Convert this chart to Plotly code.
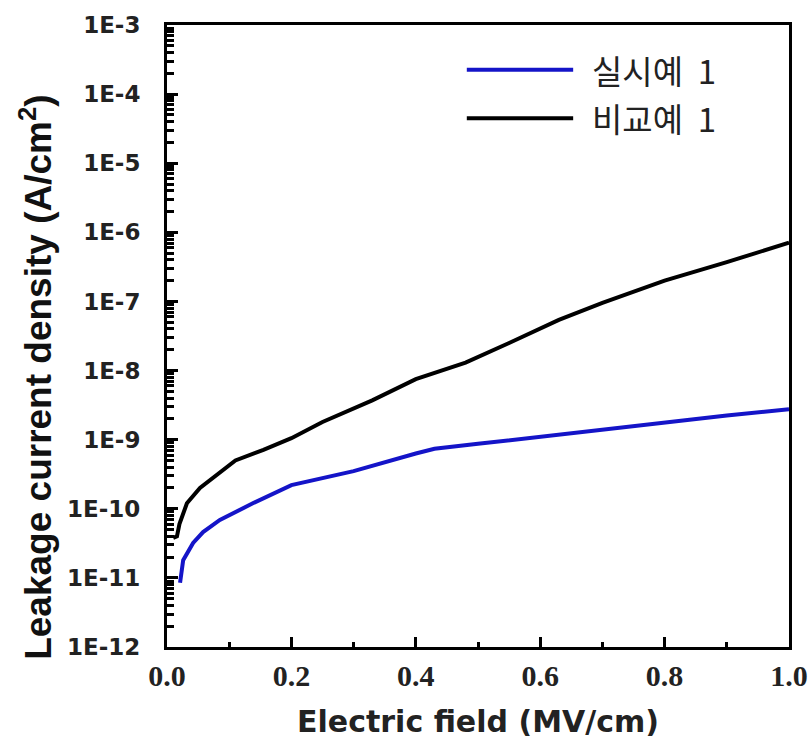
import plotly.graph_objects as go

# Data
field_ce = [0.010, 0.016, 0.020, 0.032, 0.053, 0.085, 0.11, 0.155, 0.20, 0.25,
            0.30, 0.33, 0.40, 0.48, 0.55, 0.63, 0.70, 0.80, 0.90, 1.00]
current_ce = [3.8e-11, 4.0e-11, 6.0e-11, 1.2e-10, 2.0e-10, 3.3e-10, 5.0e-10, 7.1e-10,
              1.05e-9, 1.8e-9, 2.8e-9, 3.7e-9, 7.5e-9, 1.3e-8, 2.5e-8, 5.4e-8,
              9.5e-8, 2.0e-7, 3.7e-7, 7.1e-7]

field_ex = [0.021, 0.026, 0.042, 0.058, 0.085, 0.138, 0.20, 0.30, 0.40, 0.43,
            0.50, 0.60, 0.70, 0.80, 0.90, 1.00]
current_ex = [8.5e-12, 1.8e-11, 3.2e-11, 4.6e-11, 6.9e-11, 1.2e-10, 2.2e-10, 3.5e-10,
              6.3e-10, 7.4e-10, 8.7e-10, 1.1e-9, 1.38e-9, 1.78e-9, 2.24e-9, 2.75e-9]

series_names = ["실시예  1", "비교예  1"]
series_colors = ["#1414c8", "#000000"]

x_tickvals = [0.0, 0.2, 0.4, 0.6, 0.8, 1.0]
x_ticktext = ["0.0", "0.2", "0.4", "0.6", "0.8", "1.0"]
x_minorvals = [0.1, 0.3, 0.5, 0.7, 0.9]
y_tickvals = [1e-12, 1e-11, 1e-10, 1e-9, 1e-8, 1e-7, 1e-6, 1e-5, 1e-4, 1e-3]
y_ticktext = ["1E-12", "1E-11", "1E-10", "1E-9", "1E-8", "1E-7", "1E-6", "1E-5", "1E-4", "1E-3"]
y_minor_mult = [2, 3, 4, 5, 6, 7, 8, 9]
y_minorvals = [m * d for d in y_tickvals[:-1] for m in y_minor_mult]

x_title = "Electric field (MV/cm)"
y_title = "Leakage current density (A/cm<sup>2</sup>)"

fig = go.Figure()
fig.add_trace(go.Scatter(x=field_ex, y=current_ex, mode="lines", name=series_names[0],
                         line=dict(color=series_colors[0], width=4), showlegend=False))
fig.add_trace(go.Scatter(x=field_ce, y=current_ce, mode="lines", name=series_names[1],
                         line=dict(color=series_colors[1], width=4), showlegend=False))

# Custom legend (long line samples, as in the reference)
leg_y = [0.928, 0.850]
for i in range(2):
    fig.add_shape(type="line", xref="paper", yref="paper", x0=0.482, x1=0.653,
                  y0=leg_y[i], y1=leg_y[i], line=dict(color=series_colors[i], width=4))
    fig.add_annotation(xref="paper", yref="paper", x=0.68, y=leg_y[i], text=series_names[i],
                       showarrow=False, xanchor="left", yanchor="middle",
                       font=dict(family="Noto Sans CJK KR", size=33, color="#222"))

# Y axis title placed like the reference (slightly below centre)
fig.add_annotation(xref="paper", yref="paper", x=-0.211, y=0.434, text=y_title,
                   textangle=-90, showarrow=False, xanchor="center", yanchor="middle",
                   font=dict(family="Liberation Sans", size=37, color="#111", weight="bold"))

fig.update_layout(
    width=811, height=749,
    margin=dict(l=167, r=22, t=25, b=102),
    paper_bgcolor="white", plot_bgcolor="white",
    xaxis=dict(
        range=[0, 1.0], tickmode="array", tickvals=x_tickvals, ticktext=x_ticktext,
        ticks="inside", ticklen=10, tickwidth=2.5, tickcolor="black",
        minor=dict(tickmode="array", tickvals=x_minorvals, ticks="inside", ticklen=5,
                   tickwidth=2.5, tickcolor="black", showgrid=False),
        showline=True, linewidth=3, linecolor="black", mirror=True,
        showgrid=False, zeroline=False, automargin=False, ticklabelstandoff=0,
        tickfont=dict(family="Liberation Serif", size=30, color="#222", weight="bold"),
        title=dict(text=x_title, standoff=20,
                   font=dict(family="DejaVu Sans", size=30, color="#222", weight="bold")),
    ),
    yaxis=dict(
        type="log", range=[-12, -3], tickmode="array", tickvals=y_tickvals, ticktext=y_ticktext,
        ticks="inside", ticklen=11, tickwidth=2.5, tickcolor="black",
        minor=dict(tickmode="array", tickvals=y_minorvals, ticks="inside", ticklen=7,
                   tickwidth=2.5, tickcolor="black", showgrid=False),
        showline=True, linewidth=3, linecolor="black", mirror=True,
        showgrid=False, zeroline=False, automargin=False, ticklabelstandoff=19,
        tickfont=dict(family="DejaVu Sans", size=23, color="#222", weight="bold"),
    ),
)

fig.write_html("out.html", config={"displayModeBar": False},
               post_script="document.body.style.margin='0';")
